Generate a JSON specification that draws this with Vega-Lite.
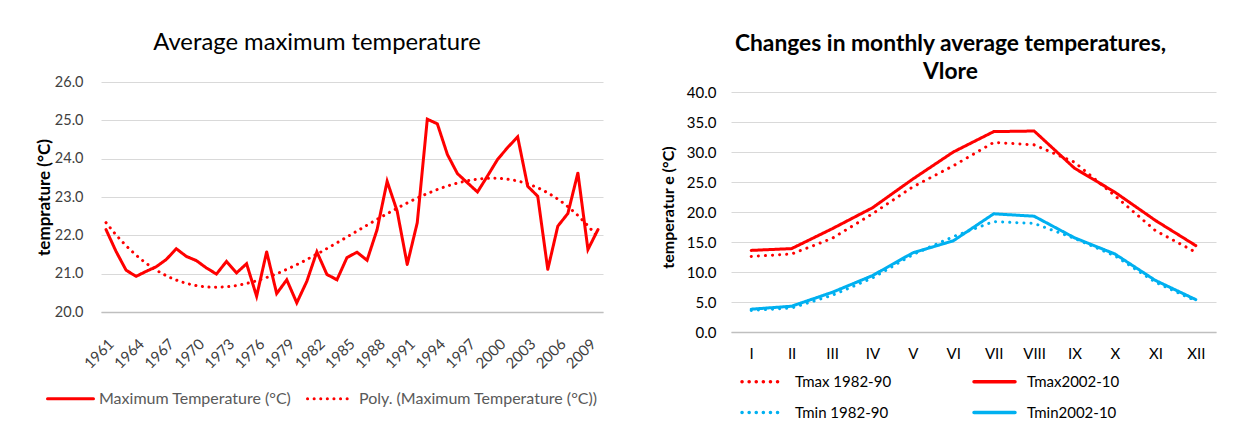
{
  "$schema": "https://vega.github.io/schema/vega-lite/v6.json",
  "background": "white",
  "padding": {"left": 35, "top": 31, "right": 5, "bottom": 0},
  "spacing": 56,
  "resolve": {"scale": {"color": "independent", "strokeDash": "independent"}, "legend": {"color": "independent", "strokeDash": "independent"}},
  "config": {
    "font": "Lato",
    "view": {"stroke": null},
    "axis": {"ticks": false, "gridColor": "#d9d9d9", "gridWidth": 1.2, "domainColor": "#bfbfbf", "domainWidth": 1.5}
  },
  "datasets": {
    "maxT": [
      {"year": 1961, "temp": 22.15, "s": "Maximum Temperature (°C)", "t": "Poly. (Maximum Temperature (°C))"},
      {"year": 1962, "temp": 21.58, "s": "Maximum Temperature (°C)", "t": "Poly. (Maximum Temperature (°C))"},
      {"year": 1963, "temp": 21.09, "s": "Maximum Temperature (°C)", "t": "Poly. (Maximum Temperature (°C))"},
      {"year": 1964, "temp": 20.93, "s": "Maximum Temperature (°C)", "t": "Poly. (Maximum Temperature (°C))"},
      {"year": 1965, "temp": 21.06, "s": "Maximum Temperature (°C)", "t": "Poly. (Maximum Temperature (°C))"},
      {"year": 1966, "temp": 21.18, "s": "Maximum Temperature (°C)", "t": "Poly. (Maximum Temperature (°C))"},
      {"year": 1967, "temp": 21.37, "s": "Maximum Temperature (°C)", "t": "Poly. (Maximum Temperature (°C))"},
      {"year": 1968, "temp": 21.65, "s": "Maximum Temperature (°C)", "t": "Poly. (Maximum Temperature (°C))"},
      {"year": 1969, "temp": 21.45, "s": "Maximum Temperature (°C)", "t": "Poly. (Maximum Temperature (°C))"},
      {"year": 1970, "temp": 21.34, "s": "Maximum Temperature (°C)", "t": "Poly. (Maximum Temperature (°C))"},
      {"year": 1971, "temp": 21.15, "s": "Maximum Temperature (°C)", "t": "Poly. (Maximum Temperature (°C))"},
      {"year": 1972, "temp": 20.99, "s": "Maximum Temperature (°C)", "t": "Poly. (Maximum Temperature (°C))"},
      {"year": 1973, "temp": 21.32, "s": "Maximum Temperature (°C)", "t": "Poly. (Maximum Temperature (°C))"},
      {"year": 1974, "temp": 21.02, "s": "Maximum Temperature (°C)", "t": "Poly. (Maximum Temperature (°C))"},
      {"year": 1975, "temp": 21.26, "s": "Maximum Temperature (°C)", "t": "Poly. (Maximum Temperature (°C))"},
      {"year": 1976, "temp": 20.41, "s": "Maximum Temperature (°C)", "t": "Poly. (Maximum Temperature (°C))"},
      {"year": 1977, "temp": 21.57, "s": "Maximum Temperature (°C)", "t": "Poly. (Maximum Temperature (°C))"},
      {"year": 1978, "temp": 20.48, "s": "Maximum Temperature (°C)", "t": "Poly. (Maximum Temperature (°C))"},
      {"year": 1979, "temp": 20.84, "s": "Maximum Temperature (°C)", "t": "Poly. (Maximum Temperature (°C))"},
      {"year": 1980, "temp": 20.24, "s": "Maximum Temperature (°C)", "t": "Poly. (Maximum Temperature (°C))"},
      {"year": 1981, "temp": 20.8, "s": "Maximum Temperature (°C)", "t": "Poly. (Maximum Temperature (°C))"},
      {"year": 1982, "temp": 21.57, "s": "Maximum Temperature (°C)", "t": "Poly. (Maximum Temperature (°C))"},
      {"year": 1983, "temp": 20.98, "s": "Maximum Temperature (°C)", "t": "Poly. (Maximum Temperature (°C))"},
      {"year": 1984, "temp": 20.84, "s": "Maximum Temperature (°C)", "t": "Poly. (Maximum Temperature (°C))"},
      {"year": 1985, "temp": 21.42, "s": "Maximum Temperature (°C)", "t": "Poly. (Maximum Temperature (°C))"},
      {"year": 1986, "temp": 21.56, "s": "Maximum Temperature (°C)", "t": "Poly. (Maximum Temperature (°C))"},
      {"year": 1987, "temp": 21.35, "s": "Maximum Temperature (°C)", "t": "Poly. (Maximum Temperature (°C))"},
      {"year": 1988, "temp": 22.15, "s": "Maximum Temperature (°C)", "t": "Poly. (Maximum Temperature (°C))"},
      {"year": 1989, "temp": 23.41, "s": "Maximum Temperature (°C)", "t": "Poly. (Maximum Temperature (°C))"},
      {"year": 1990, "temp": 22.63, "s": "Maximum Temperature (°C)", "t": "Poly. (Maximum Temperature (°C))"},
      {"year": 1991, "temp": 21.24, "s": "Maximum Temperature (°C)", "t": "Poly. (Maximum Temperature (°C))"},
      {"year": 1992, "temp": 22.33, "s": "Maximum Temperature (°C)", "t": "Poly. (Maximum Temperature (°C))"},
      {"year": 1993, "temp": 25.03, "s": "Maximum Temperature (°C)", "t": "Poly. (Maximum Temperature (°C))"},
      {"year": 1994, "temp": 24.91, "s": "Maximum Temperature (°C)", "t": "Poly. (Maximum Temperature (°C))"},
      {"year": 1995, "temp": 24.11, "s": "Maximum Temperature (°C)", "t": "Poly. (Maximum Temperature (°C))"},
      {"year": 1996, "temp": 23.61, "s": "Maximum Temperature (°C)", "t": "Poly. (Maximum Temperature (°C))"},
      {"year": 1997, "temp": 23.37, "s": "Maximum Temperature (°C)", "t": "Poly. (Maximum Temperature (°C))"},
      {"year": 1998, "temp": 23.13, "s": "Maximum Temperature (°C)", "t": "Poly. (Maximum Temperature (°C))"},
      {"year": 1999, "temp": 23.55, "s": "Maximum Temperature (°C)", "t": "Poly. (Maximum Temperature (°C))"},
      {"year": 2000, "temp": 23.98, "s": "Maximum Temperature (°C)", "t": "Poly. (Maximum Temperature (°C))"},
      {"year": 2001, "temp": 24.29, "s": "Maximum Temperature (°C)", "t": "Poly. (Maximum Temperature (°C))"},
      {"year": 2002, "temp": 24.57, "s": "Maximum Temperature (°C)", "t": "Poly. (Maximum Temperature (°C))"},
      {"year": 2003, "temp": 23.28, "s": "Maximum Temperature (°C)", "t": "Poly. (Maximum Temperature (°C))"},
      {"year": 2004, "temp": 23.02, "s": "Maximum Temperature (°C)", "t": "Poly. (Maximum Temperature (°C))"},
      {"year": 2005, "temp": 21.11, "s": "Maximum Temperature (°C)", "t": "Poly. (Maximum Temperature (°C))"},
      {"year": 2006, "temp": 22.24, "s": "Maximum Temperature (°C)", "t": "Poly. (Maximum Temperature (°C))"},
      {"year": 2007, "temp": 22.57, "s": "Maximum Temperature (°C)", "t": "Poly. (Maximum Temperature (°C))"},
      {"year": 2008, "temp": 23.63, "s": "Maximum Temperature (°C)", "t": "Poly. (Maximum Temperature (°C))"},
      {"year": 2009, "temp": 21.63, "s": "Maximum Temperature (°C)", "t": "Poly. (Maximum Temperature (°C))"},
      {"year": 2010, "temp": 22.15, "s": "Maximum Temperature (°C)", "t": "Poly. (Maximum Temperature (°C))"}
    ],
    "monthly": [
      {"m": "I", "s": "Tmax 1982-90", "v": 12.6}, {"m": "II", "s": "Tmax 1982-90", "v": 13.0}, {"m": "III", "s": "Tmax 1982-90", "v": 15.6}, {"m": "IV", "s": "Tmax 1982-90", "v": 19.7}, {"m": "V", "s": "Tmax 1982-90", "v": 24.2}, {"m": "VI", "s": "Tmax 1982-90", "v": 27.7}, {"m": "VII", "s": "Tmax 1982-90", "v": 31.6}, {"m": "VIII", "s": "Tmax 1982-90", "v": 31.2}, {"m": "IX", "s": "Tmax 1982-90", "v": 28.3}, {"m": "X", "s": "Tmax 1982-90", "v": 22.7}, {"m": "XI", "s": "Tmax 1982-90", "v": 16.9}, {"m": "XII", "s": "Tmax 1982-90", "v": 13.3},
      {"m": "I", "s": "Tmax2002-10", "v": 13.6}, {"m": "II", "s": "Tmax2002-10", "v": 13.9}, {"m": "III", "s": "Tmax2002-10", "v": 17.2}, {"m": "IV", "s": "Tmax2002-10", "v": 20.7}, {"m": "V", "s": "Tmax2002-10", "v": 25.5}, {"m": "VI", "s": "Tmax2002-10", "v": 30.0}, {"m": "VII", "s": "Tmax2002-10", "v": 33.4}, {"m": "VIII", "s": "Tmax2002-10", "v": 33.5}, {"m": "IX", "s": "Tmax2002-10", "v": 27.3}, {"m": "X", "s": "Tmax2002-10", "v": 23.3}, {"m": "XI", "s": "Tmax2002-10", "v": 18.6}, {"m": "XII", "s": "Tmax2002-10", "v": 14.4},
      {"m": "I", "s": "Tmin 1982-90", "v": 3.6}, {"m": "II", "s": "Tmin 1982-90", "v": 4.0}, {"m": "III", "s": "Tmin 1982-90", "v": 6.1}, {"m": "IV", "s": "Tmin 1982-90", "v": 9.0}, {"m": "V", "s": "Tmin 1982-90", "v": 12.9}, {"m": "VI", "s": "Tmin 1982-90", "v": 15.9}, {"m": "VII", "s": "Tmin 1982-90", "v": 18.4}, {"m": "VIII", "s": "Tmin 1982-90", "v": 18.1}, {"m": "IX", "s": "Tmin 1982-90", "v": 15.6}, {"m": "X", "s": "Tmin 1982-90", "v": 12.7}, {"m": "XI", "s": "Tmin 1982-90", "v": 8.3}, {"m": "XII", "s": "Tmin 1982-90", "v": 5.2},
      {"m": "I", "s": "Tmin2002-10", "v": 3.8}, {"m": "II", "s": "Tmin2002-10", "v": 4.3}, {"m": "III", "s": "Tmin2002-10", "v": 6.6}, {"m": "IV", "s": "Tmin2002-10", "v": 9.4}, {"m": "V", "s": "Tmin2002-10", "v": 13.2}, {"m": "VI", "s": "Tmin2002-10", "v": 15.2}, {"m": "VII", "s": "Tmin2002-10", "v": 19.7}, {"m": "VIII", "s": "Tmin2002-10", "v": 19.3}, {"m": "IX", "s": "Tmin2002-10", "v": 15.7}, {"m": "X", "s": "Tmin2002-10", "v": 13.0}, {"m": "XI", "s": "Tmin2002-10", "v": 8.6}, {"m": "XII", "s": "Tmin2002-10", "v": 5.4}
    ]
  },
  "hconcat": [
    {
      "width": 502,
      "height": 230,
      "title": {"text": "Average maximum  temperature", "fontSize": 23.8, "fontWeight": "normal", "color": "#000000", "dx": -35, "offset": 19},
      "data": {"name": "maxT"},
      "encoding": {
        "x": {"field": "year", "type": "quantitative", "scale": {"domain": [1960.5, 2010.5], "nice": false, "zero": false},
          "axis": {"title": null, "grid": false, "values": [1961, 1964, 1967, 1970, 1973, 1976, 1979, 1982, 1985, 1988, 1991, 1994, 1997, 2000, 2003, 2006, 2009], "format": "d", "labelAngle": -45, "labelOverlap": false, "labelFontSize": 15, "labelColor": "#404040", "labelPadding": 24}},
        "y": {"field": "temp", "type": "quantitative", "scale": {"domain": [20, 26], "nice": false, "zero": false},
          "axis": {"title": "temprature (°C)", "titleFontSize": 17, "titleFontWeight": "bold", "titleColor": "#000000", "titlePadding": 1, "values": [20, 21, 22, 23, 24, 25, 26], "format": ".1f", "labelFontSize": 14.5, "labelColor": "#404040", "labelPadding": 18, "domain": false}}
      },
      "layer": [
        {
          "mark": {"type": "line", "strokeWidth": 3, "strokeCap": "round"},
          "encoding": {
            "color": {"field": "s", "type": "nominal", "scale": {"domain": ["Maximum Temperature (°C)", "Poly. (Maximum Temperature (°C))"], "range": ["#ff0000", "#ff0000"]},
              "legend": {"title": null, "orient": "none", "legendX": -55, "legendY": 292, "direction": "horizontal", "symbolType": "stroke", "symbolSize": 2116, "symbolStrokeWidth": 3, "labelFontSize": 16, "labelLimit": 0, "labelColor": "#595959", "labelOffset": 4, "columnPadding": 9, "encode": {"symbols": {"update": {"strokeCap": {"value": "round"}}}}}},
            "strokeDash": {"field": "s", "type": "nominal", "scale": {"domain": ["Maximum Temperature (°C)", "Poly. (Maximum Temperature (°C))"], "range": [[1, 0], [0.1, 6.5]]},
              "legend": {"title": null, "orient": "none", "legendX": -55, "legendY": 292, "direction": "horizontal", "symbolType": "stroke", "symbolSize": 2116, "symbolStrokeWidth": 3, "labelFontSize": 16, "labelLimit": 0, "labelColor": "#595959", "labelOffset": 4, "columnPadding": 9, "encode": {"symbols": {"update": {"strokeCap": {"value": "round"}}}}}}
          }
        },
        {
          "transform": [{"regression": "temp", "on": "year", "method": "poly", "order": 3, "groupby": ["t"]}],
          "mark": {"type": "line", "strokeWidth": 3, "strokeCap": "round"},
          "encoding": {
            "color": {"field": "t", "type": "nominal"},
            "strokeDash": {"field": "t", "type": "nominal"}
          }
        }
      ]
    },
    {
      "width": 485,
      "height": 250,
      "title": {"text": ["Changes in monthly average temperatures,", "Vlore"], "fontSize": 22.8, "fontWeight": "bold", "color": "#000000", "lineHeight": 28, "dx": -23, "offset": -1.5},
      "data": {"name": "monthly"},
      "mark": {"type": "line", "strokeWidth": 3, "strokeCap": "round"},
      "encoding": {
        "x": {"field": "m", "type": "ordinal", "sort": ["I", "II", "III", "IV", "V", "VI", "VII", "VIII", "IX", "X", "XI", "XII"], "scale": {"type": "point", "padding": 0.5},
          "axis": {"title": null, "grid": false, "labelAngle": 0, "labelFontSize": 15, "labelColor": "#000000", "labelPadding": 14}},
        "y": {"field": "v", "type": "quantitative", "scale": {"domain": [0, 41.67], "nice": false},
          "axis": {"title": "temperatur e (°C)", "titleFontSize": 16, "titleFontWeight": "bold", "titleColor": "#000000", "titlePadding": 10, "values": [0, 5, 10, 15, 20, 25, 30, 35, 40], "format": ".1f", "labelFontSize": 15, "labelColor": "#000000", "labelPadding": 15, "domain": false}},
        "color": {"field": "s", "type": "nominal", "scale": {"domain": ["Tmax 1982-90", "Tmax2002-10", "Tmin 1982-90", "Tmin2002-10"], "range": ["#ff0000", "#ff0000", "#00b0f0", "#00b0f0"]},
          "legend": {"title": null, "orient": "none", "legendX": 9, "legendY": 277, "direction": "horizontal", "columns": 2, "symbolType": "stroke", "symbolSize": 1681, "symbolStrokeWidth": 3.5, "labelFontSize": 15, "labelLimit": 0, "labelColor": "#000000", "labelOffset": 10, "columnPadding": 75, "rowPadding": -11, "encode": {"symbols": {"update": {"strokeCap": {"value": "round"}}}}}},
        "strokeDash": {"field": "s", "type": "nominal", "scale": {"domain": ["Tmax 1982-90", "Tmax2002-10", "Tmin 1982-90", "Tmin2002-10"], "range": [[0.1, 7], [1, 0], [0.1, 7], [1, 0]]},
          "legend": {"title": null, "orient": "none", "legendX": 9, "legendY": 277, "direction": "horizontal", "columns": 2, "symbolType": "stroke", "symbolSize": 1681, "symbolStrokeWidth": 3.5, "labelFontSize": 15, "labelLimit": 0, "labelColor": "#000000", "labelOffset": 10, "columnPadding": 75, "rowPadding": -11, "encode": {"symbols": {"update": {"strokeCap": {"value": "round"}}}}}}
      }
    }
  ]
}
